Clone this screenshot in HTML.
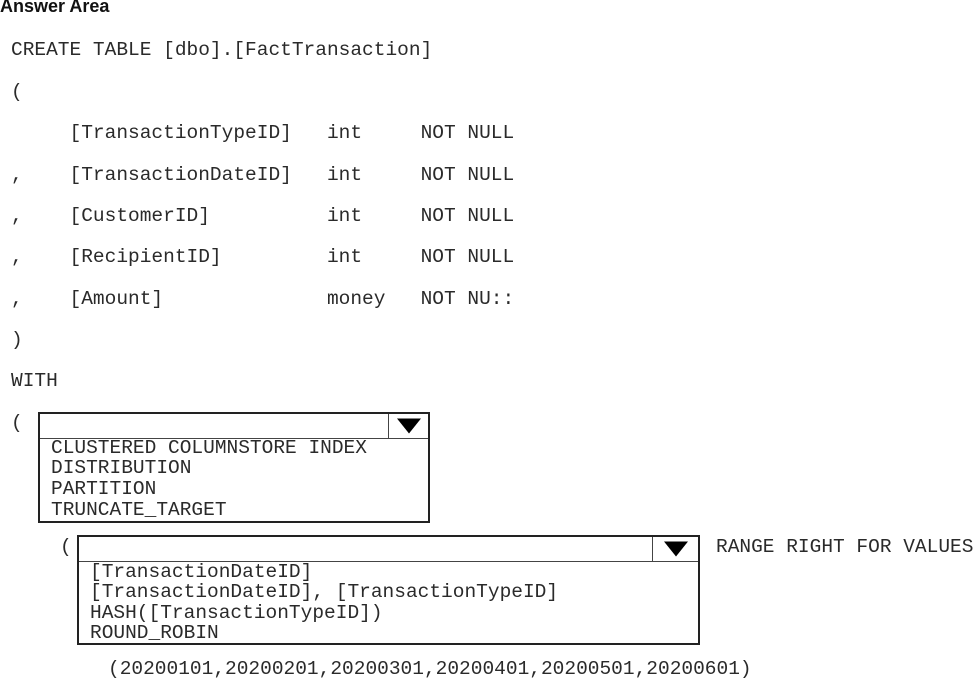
<!DOCTYPE html>
<html><head><style>
body{margin:0;width:973px;height:679px;background:#fff;position:relative;overflow:hidden}
.t{position:absolute;font-family:"Liberation Mono",monospace;font-size:19.5px;line-height:22px;color:#2a2a2a;white-space:pre}
.h{position:absolute;left:0;top:-4px;font-family:"Liberation Sans",sans-serif;font-weight:bold;font-size:18px;color:#111}
.box{position:absolute;border:2px solid #222;box-sizing:border-box}
.hd{position:absolute;left:0;right:0;top:0;border-bottom:1.5px solid #444}
.ar{position:absolute;top:0;right:0;border-left:1.5px solid #444}
.tri{position:absolute;left:50%;top:50%;transform:translate(-50%,-50%);width:0;height:0;border-left:12px solid transparent;border-right:12px solid transparent;border-top:15px solid #000}
</style></head><body>
<div class="h">Answer Area</div>
<div class="t" style="left:11px;top:39px">CREATE TABLE [dbo].[FactTransaction]</div>
<div class="t" style="left:11px;top:81px">(</div>
<div class="t" style="left:11px;top:122px">     [TransactionTypeID]   int     NOT NULL</div>
<div class="t" style="left:11px;top:164px">,    [TransactionDateID]   int     NOT NULL</div>
<div class="t" style="left:11px;top:205px">,    [CustomerID]          int     NOT NULL</div>
<div class="t" style="left:11px;top:246px">,    [RecipientID]         int     NOT NULL</div>
<div class="t" style="left:11px;top:288px">,    [Amount]              money   NOT NU::</div>
<div class="t" style="left:11px;top:329px">)</div>
<div class="t" style="left:11px;top:370px">WITH</div>
<div class="t" style="left:11px;top:412px">(</div>
<div class="box" style="left:38px;top:412px;width:392px;height:111px">
 <div class="hd" style="height:24px"></div>
 <div class="ar" style="width:39px;height:24px"><div class="tri"></div></div>
</div>
<div class="t" style="left:51px;top:437px">CLUSTERED COLUMNSTORE INDEX</div>
<div class="t" style="left:51px;top:457px">DISTRIBUTION</div>
<div class="t" style="left:51px;top:478px">PARTITION</div>
<div class="t" style="left:51px;top:499px">TRUNCATE_TARGET</div>
<div class="t" style="left:60px;top:536px">(</div>
<div class="box" style="left:77px;top:535px;width:623px;height:110px">
 <div class="hd" style="height:24px"></div>
 <div class="ar" style="width:45px;height:24px"><div class="tri"></div></div>
</div>
<div class="t" style="left:716px;top:536px">RANGE RIGHT FOR VALUES</div>
<div class="t" style="left:90px;top:561px">[TransactionDateID]</div>
<div class="t" style="left:90px;top:581px">[TransactionDateID], [TransactionTypeID]</div>
<div class="t" style="left:90px;top:602px">HASH([TransactionTypeID])</div>
<div class="t" style="left:90px;top:622px">ROUND_ROBIN</div>
<div class="t" style="left:108px;top:658px">(20200101,20200201,20200301,20200401,20200501,20200601)</div>
</body></html>
